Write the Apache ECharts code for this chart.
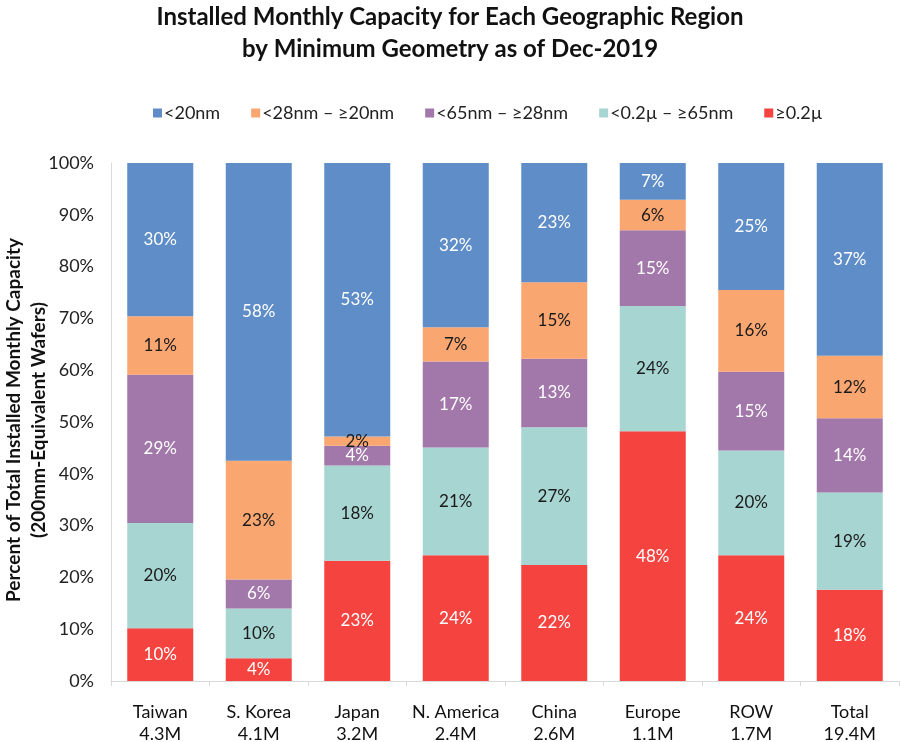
<!DOCTYPE html>
<html>
<head>
<meta charset="utf-8">
<script src="https://cdn.jsdelivr.net/npm/echarts@6/dist/echarts.min.js"></script>
<style>html,body{margin:0;padding:0;background:#fff}#c{width:900px;height:742px}</style>
</head>
<body>
<div id="c"></div>
<script>
var categories = ['Taiwan\n4.3M', 'S. Korea\n4.1M', 'Japan\n3.2M', 'N. America\n2.4M', 'China\n2.6M', 'Europe\n1.1M', 'ROW\n1.7M', 'Total\n19.4M'];
var seriesNames = ['<20nm', '<28nm – ≥20nm', '<65nm – ≥28nm', '<0.2µ – ≥65nm', '≥0.2µ'];
var ge02 =      [10.2, 4.4, 23.2, 24.3, 22.4, 48.2, 24.3, 17.6];
var lt02ge65 =  [20.3, 9.6, 18.4, 20.8, 26.6, 24.2, 20.2, 18.8];
var lt65ge28 =  [28.6, 5.6, 3.8, 16.6, 13.2, 14.6, 15.2, 14.3];
var lt28ge20 =  [11.3, 22.9, 1.8, 6.6, 14.8, 5.9, 15.8, 12.1];
var lt20 =      [29.6, 57.5, 52.8, 31.7, 23.0, 7.1, 24.5, 37.2];
var yTicks = [0, 10, 20, 30, 40, 50, 60, 70, 80, 90, 100];
var yTitleLines = ['Percent of Total Installed Monthly Capacity', '(200mm-Equivalent Wafers)'];

var FONT = 'Lato';
var colors = {
  lt20: '#5f8dc7', lt28: '#f9a671', lt65: '#a277aa', lt02: '#a7d6d2', ge02: '#f5433f'
};
function mk(name, data, color, labelColor) {
  return {
    name: name, type: 'bar', stack: 'total', data: data, barWidth: 66,
    itemStyle: { color: color },
    label: {
      show: true, position: 'inside', color: labelColor, fontFamily: FONT, fontSize: 17,
      formatter: function (p) { return Math.round(p.value) + '%'; }
    }
  };
}
function yTitle(text, x) {
  return {
    type: 'text', x: x, y: 420, rotation: Math.PI / 2,
    style: {
      text: text, fontFamily: FONT, fontSize: 19, fontWeight: 'bold', fill: '#111',
      textAlign: 'center', textVerticalAlign: 'middle'
    }
  };
}
var chart = echarts.init(document.getElementById('c'));
chart.setOption({
  animation: false,
  title: {
    text: 'Installed Monthly Capacity for Each Geographic Region\nby Minimum Geometry as of Dec-2019',
    left: 'center', top: -4,
    textStyle: { fontFamily: FONT, fontSize: 24, fontWeight: 'bold', color: '#111', lineHeight: 32 }
  },
  legend: {
    top: 99, left: 148, itemWidth: 9, itemHeight: 9, itemGap: 31,
    icon: 'rect',
    textStyle: { fontFamily: FONT, fontSize: 18, color: '#222', padding: [0, 0, 0, -3] },
    data: seriesNames
  },
  graphic: [yTitle(yTitleLines[0], 14), yTitle(yTitleLines[1], 39)],
  grid: { left: 111, right: 1, top: 163, bottom: 61, outerBoundsMode: 'none' },
  xAxis: {
    type: 'category', data: categories,
    axisLine: { lineStyle: { color: '#d9d9d9' } },
    axisTick: { show: true, lineStyle: { color: '#d9d9d9' }, length: 5 },
    axisLabel: { interval: 0, fontFamily: FONT, fontSize: 18, color: '#111', lineHeight: 22, margin: 20 }
  },
  yAxis: {
    type: 'value', min: 0, max: 100, interval: 10,
    axisLine: { show: true, lineStyle: { color: '#d9d9d9' } },
    axisTick: { show: false },
    splitLine: { show: false },
    axisLabel: {
      fontFamily: FONT, fontSize: 18, color: '#222', margin: 17,
      formatter: function (v) { return yTicks.indexOf(v) >= 0 ? v + '%' : ''; }
    }
  },
  series: [
    mk(seriesNames[4], ge02, colors.ge02, '#fff'),
    mk(seriesNames[3], lt02ge65, colors.lt02, '#1a1a1a'),
    mk(seriesNames[2], lt65ge28, colors.lt65, '#fff'),
    mk(seriesNames[1], lt28ge20, colors.lt28, '#1a1a1a'),
    mk(seriesNames[0], lt20, colors.lt20, '#fff')
  ]
});
</script>
</body>
</html>
